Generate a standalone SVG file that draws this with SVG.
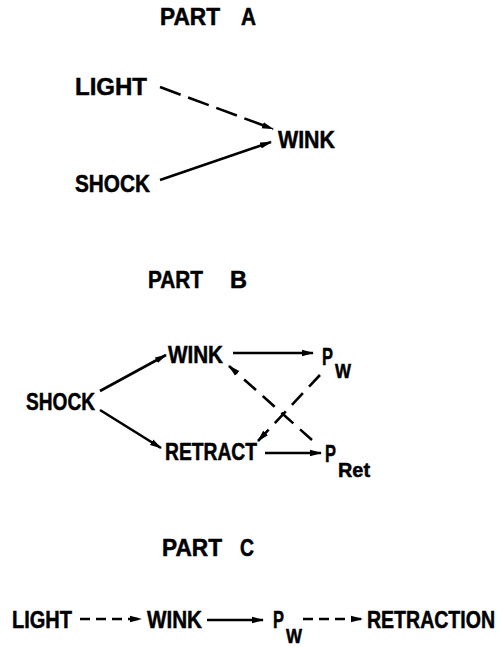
<svg xmlns="http://www.w3.org/2000/svg" width="502" height="647" viewBox="0 0 502 647">
<style>
text{font-family:"Liberation Sans",Arial,sans-serif;font-weight:bold;fill:#000;stroke:#000;stroke-width:0.5;font-size:24px}
.t{font-size:23px}
.sub{font-size:20px}
.ln{stroke:#000;stroke-width:2.6;fill:none;marker-end:url(#ah)}
.d1{stroke-dasharray:22 8}
.d2{stroke-dasharray:16 9}
.d3{stroke-dasharray:10 6}
</style>
<defs>
<marker id="ah" markerUnits="userSpaceOnUse" viewBox="0 0 12 8" refX="11" refY="4" markerWidth="12" markerHeight="8" orient="auto">
<path d="M0,0.8 L12,4 L0,7.2 Z" fill="#000"/>
</marker>
</defs>
<rect width="502" height="647" fill="#fff"/>
<g id="titles">
<text class="t" y="25"><tspan x="160" textLength="60" lengthAdjust="spacingAndGlyphs">PART</tspan><tspan x="241" textLength="15" lengthAdjust="spacingAndGlyphs">A</tspan></text>
<text class="t" y="288"><tspan x="148" textLength="55" lengthAdjust="spacingAndGlyphs">PART</tspan><tspan x="230" textLength="17" lengthAdjust="spacingAndGlyphs">B</tspan></text>
<text class="t" y="556"><tspan x="162" textLength="60" lengthAdjust="spacingAndGlyphs">PART</tspan><tspan x="240" textLength="14" lengthAdjust="spacingAndGlyphs">C</tspan></text>
</g>
<g id="a-light"><text x="75" y="95" textLength="72" lengthAdjust="spacingAndGlyphs">LIGHT</text></g>
<g id="a-shock"><text x="75" y="192" textLength="75" lengthAdjust="spacingAndGlyphs">SHOCK</text></g>
<g id="a-wink"><text x="278" y="148" textLength="57" lengthAdjust="spacingAndGlyphs">WINK</text></g>
<g id="b-shock"><text x="26" y="410" textLength="69" lengthAdjust="spacingAndGlyphs">SHOCK</text></g>
<g id="b-wink"><text x="168" y="363" textLength="55" lengthAdjust="spacingAndGlyphs">WINK</text></g>
<g id="b-retract"><text x="165" y="460" textLength="92" lengthAdjust="spacingAndGlyphs">RETRACT</text></g>
<g id="b-pw"><text x="322" y="365" textLength="11" lengthAdjust="spacingAndGlyphs">P</text><text class="sub" x="335" y="378" textLength="16" lengthAdjust="spacingAndGlyphs">W</text></g>
<g id="b-pret"><text x="325" y="462" textLength="11" lengthAdjust="spacingAndGlyphs">P</text><text class="sub" x="338" y="477" textLength="32" lengthAdjust="spacingAndGlyphs">Ret</text></g>
<g id="c-light"><text x="12" y="628" textLength="60" lengthAdjust="spacingAndGlyphs">LIGHT</text></g>
<g id="c-wink"><text x="147" y="628" textLength="55" lengthAdjust="spacingAndGlyphs">WINK</text></g>
<g id="c-pw"><text x="273" y="628" textLength="11" lengthAdjust="spacingAndGlyphs">P</text><text class="sub" x="286" y="643" textLength="16" lengthAdjust="spacingAndGlyphs">W</text></g>
<g id="c-retraction"><text transform="translate(367,628) scale(0.8,1)" x="0" y="0" textLength="160" lengthAdjust="spacingAndGlyphs">RETRACTION</text></g>
<g id="connectors">
<line class="ln d1" x1="160" y1="87" x2="273" y2="129"/>
<line class="ln" x1="160" y1="180" x2="271" y2="142"/>
<line class="ln" x1="100" y1="391" x2="166" y2="355"/>
<line class="ln" x1="100" y1="410" x2="161" y2="448"/>
<line class="ln" x1="233" y1="353" x2="313" y2="353"/>
<line class="ln d2" x1="320" y1="375" x2="258" y2="441"/>
<line class="ln d2" x1="312" y1="440" x2="229" y2="366"/>
<line class="ln" x1="265" y1="453" x2="321" y2="453"/>
<line class="ln d3" x1="80" y1="619" x2="141" y2="619"/>
<line class="ln" x1="207" y1="620" x2="263" y2="620"/>
<line class="ln d3" x1="303" y1="619" x2="362" y2="619"/>
</g>
</svg>
